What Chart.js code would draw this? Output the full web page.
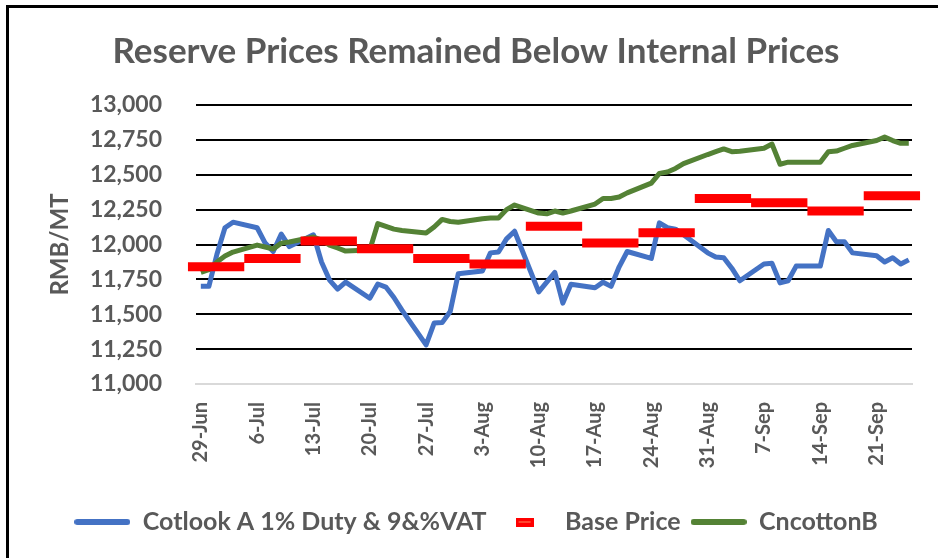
<!DOCTYPE html>
<html><head><meta charset="utf-8">
<script src="https://cdn.jsdelivr.net/npm/chart.js@4.4.1/dist/chart.umd.min.js"></script>
<style>
html,body{margin:0;padding:0;background:#fff;}
#wrap{position:relative;width:938px;height:558px;overflow:hidden;}
#frame{position:absolute;left:6px;top:5px;right:-10px;bottom:-10px;border-left:3px solid #000;border-top:3px solid #000;pointer-events:none;}
canvas{position:absolute;left:0;top:0;}
</style></head><body>
<div id="wrap"><canvas id="c" width="938" height="558"></canvas><div id="frame"></div></div>
<script>
// ---- data ----
const dates = [
 '2020-06-29','2020-06-30','2020-07-01','2020-07-02','2020-07-03',
 '2020-07-06','2020-07-07','2020-07-08','2020-07-09','2020-07-10',
 '2020-07-13','2020-07-14','2020-07-15','2020-07-16','2020-07-17',
 '2020-07-20','2020-07-21','2020-07-22','2020-07-23','2020-07-24',
 '2020-07-27','2020-07-28','2020-07-29','2020-07-30','2020-07-31',
 '2020-08-03','2020-08-04','2020-08-05','2020-08-06','2020-08-07',
 '2020-08-10','2020-08-11','2020-08-12','2020-08-13','2020-08-14',
 '2020-08-17','2020-08-18','2020-08-19','2020-08-20','2020-08-21',
 '2020-08-24','2020-08-25','2020-08-26','2020-08-27','2020-08-28',
 '2020-08-31','2020-09-01','2020-09-02','2020-09-03','2020-09-04',
 '2020-09-07','2020-09-08','2020-09-09','2020-09-10','2020-09-11',
 '2020-09-14','2020-09-15','2020-09-16','2020-09-17','2020-09-18',
 '2020-09-21','2020-09-22','2020-09-23','2020-09-24','2020-09-25'
];
const cotlookA = [
 11700,11700,11930,12120,12160,
 12120,12010,11950,12075,11985,
 12070,11875,11745,11680,11730,
 11615,11717,11695,11620,11530,
 11280,11437,11440,11520,11790,
 11810,11940,11946,12040,12095,
 11660,11730,11800,11580,11715,
 11690,11730,11700,11840,11950,
 11900,12155,12120,12110,12070,
 11940,11910,11905,11830,11740,
 11860,11865,11725,11740,11845,
 11845,12100,12020,12020,11940,
 11920,11875,11905,11860,11890
];
const cncottonB = [
 11800,11820,11875,11917,11946,
 11996,11982,11968,12010,12018,
 12054,12032,11996,11975,11953,
 11960,12150,12130,12110,12100,
 12082,12125,12180,12165,12160,
 12185,12190,12190,12250,12283,
 12225,12220,12240,12225,12240,
 12290,12330,12330,12340,12370,
 12440,12510,12520,12545,12580,
 12645,12665,12685,12665,12668,
 12690,12720,12575,12590,12590,
 12590,12665,12670,12690,12710,
 12745,12770,12745,12725,12725
];
const baseWeeks = ['2020-06-29','2020-07-06','2020-07-13','2020-07-20','2020-07-27','2020-08-03','2020-08-10','2020-08-17','2020-08-24','2020-08-31','2020-09-07','2020-09-14','2020-09-21'];
const basePrice = [11840,11900,12025,11970,11900,11860,12130,12010,12085,12330,12300,12240,12350];
const tickDates = ['2020-06-29','2020-07-06','2020-07-13','2020-07-20','2020-07-27','2020-08-03','2020-08-10','2020-08-17','2020-08-24','2020-08-31','2020-09-07','2020-09-14','2020-09-21'];
const seriesNames = ['Cotlook A 1% Duty & 9&%VAT','Base Price','CncottonB'];

// ---- helpers ----
const DAY = 86400000;
const day0 = Date.UTC(2020,5,29);
const MONTHS = ['Jan','Feb','Mar','Apr','May','Jun','Jul','Aug','Sep','Oct','Nov','Dec'];
function dayOf(s){const p=s.split('-').map(Number);return (Date.UTC(p[0],p[1]-1,p[2])-day0)/DAY;}
function fmtDay(v){const d=new Date(day0+v*DAY);return d.getUTCDate()+'-'+MONTHS[d.getUTCMonth()];}
function lineIcon(color,w,h){const c=document.createElement('canvas');c.width=w;c.height=h;const x=c.getContext('2d');x.fillStyle=color;x.beginPath();x.roundRect?x.roundRect(0,0,w,h,h/2):x.rect(0,0,w,h);x.fill();return c;}
function dashIcon(){const c=document.createElement('canvas');c.width=18;c.height=9;const x=c.getContext('2d');x.fillStyle='#ff0000';x.fillRect(0,0,18,9);x.fillStyle='#ff8a5c';x.fillRect(3,4,12,1);return c;}

const blueData = dates.map((d,i)=>({x:dayOf(d),y:cotlookA[i]}));
const greenData = dates.map((d,i)=>({x:dayOf(d),y:cncottonB[i]}));
const redData = [];
baseWeeks.forEach((w,i)=>{const s=dayOf(w);redData.push({x:s-1.6,y:basePrice[i]},{x:s+5.4,y:basePrice[i]},{x:s+5.4,y:null});});

Chart.defaults.font.family = 'Lato, "Open Sans", sans-serif';
const GRAY = '#595959';

new Chart(document.getElementById('c'), {
  type: 'line',
  data: {
    datasets: [
      {label: seriesNames[0], data: blueData, borderColor:'#4472C4', backgroundColor:'#4472C4', borderWidth:5, pointRadius:0, pointStyle: lineIcon('#4472C4',56,6), order:2, borderJoinStyle:'round'},
      {label: seriesNames[1], data: redData, borderColor:'#FF0000', backgroundColor:'#FF0000', borderWidth:9, pointRadius:0, pointStyle: dashIcon(), order:0, spanGaps:false, clip:false, borderCapStyle:'butt'},
      {label: seriesNames[2], data: greenData, borderColor:'#548235', backgroundColor:'#548235', borderWidth:5, pointRadius:0, pointStyle: lineIcon('#548235',56,6), order:1, borderJoinStyle:'round'}
    ]
  },
  options: {
    responsive:false, animation:false, devicePixelRatio:1,
    layout:{padding:{left:40,right:26,top:0,bottom:13.5}},
    plugins:{
      tooltip:{enabled:false},
      title:{display:true,text:'Reserve Prices Remained Below Internal Prices',color:GRAY,font:{size:35,weight:'bold'},padding:{top:31,bottom:32}},
      legend:{position:'bottom',labels:{usePointStyle:true,pointStyleWidth:56,color:GRAY,font:{size:25,weight:'bold'},padding:10,sort:(a,b)=>a.datasetIndex-b.datasetIndex}}
    },
    scales:{
      x:{type:'linear',min:-0.6,max:88.4,
        grid:{display:false,drawTicks:false},
        border:{display:true,color:'#d9d9d9',width:2},
        afterBuildTicks:(s)=>{s.ticks=tickDates.map(d=>({value:dayOf(d)}));},
        afterFit:(s)=>{s.height=115.5;},
        ticks:{autoSkip:false,minRotation:90,maxRotation:90,padding:18,color:GRAY,font:{size:20,weight:'bold'},callback:(v)=>fmtDay(v)}
      },
      y:{min:11000,max:13000,
        afterFit:(s)=>{s.width=156;},
        grid:{color:(c)=>c.tick&&c.tick.value===11000?'rgba(0,0,0,0)':'#000',lineWidth:2,drawTicks:false},
        border:{display:false},
        ticks:{stepSize:250,padding:34,color:GRAY,font:{size:23,weight:'bold'},callback:(v)=>v.toLocaleString('en-US')},
        title:{display:true,text:'RMB/MT',color:GRAY,font:{size:24,weight:'bold'},padding:{top:6,bottom:0}}
      }
    }
  }
});
</script>
</body></html>
